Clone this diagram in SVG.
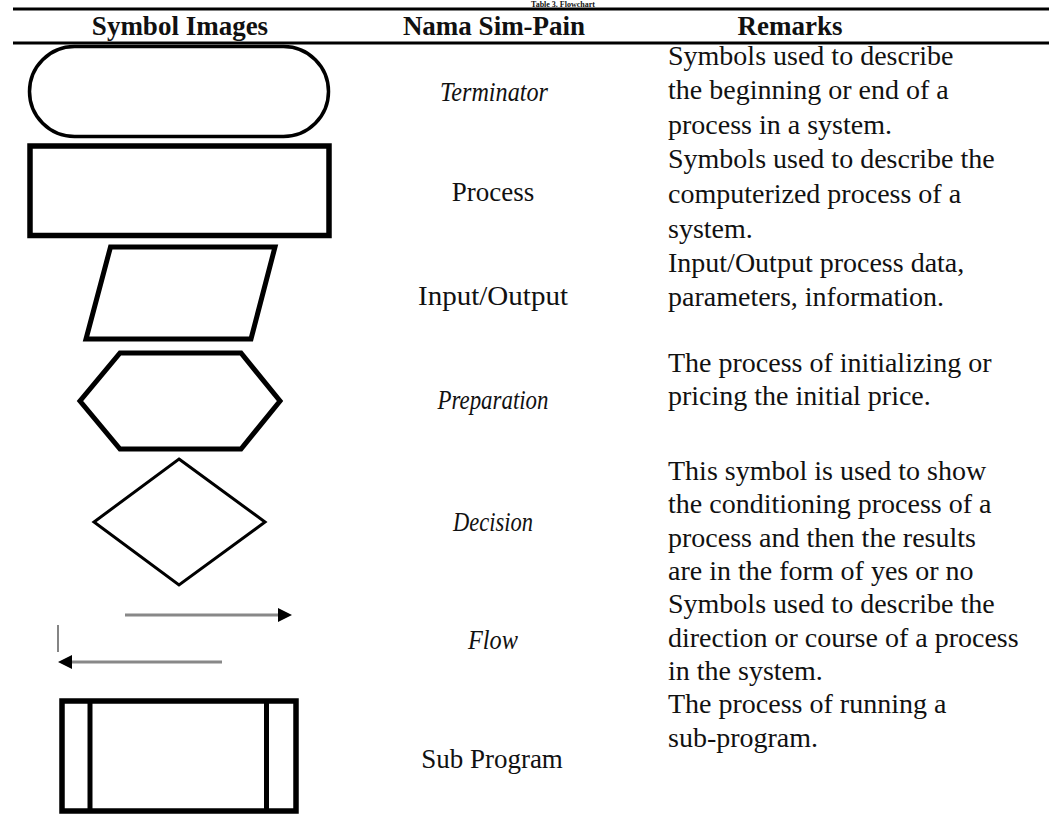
<svg xmlns="http://www.w3.org/2000/svg" width="1049" height="818" viewBox="0 0 1049 818">
<defs>
<style>
.t{font-family:"Liberation Serif","DejaVu Serif",serif;font-size:28px;fill:#111}
.h{font-weight:bold;font-size:27px}
.l{font-size:27px}
.i{font-style:italic}
.m{text-anchor:middle}
.sym{fill:#fff;stroke:#000;stroke-linejoin:miter}
.flow{stroke:#888;stroke-width:3;fill:none}
</style>
<marker id="ah" markerUnits="userSpaceOnUse" markerWidth="14" markerHeight="14" refX="0" refY="7" orient="auto">
<path d="M0,0 L14,7 L0,14 z" fill="#000"/>
</marker>
</defs>
<rect width="1049" height="818" fill="#fff"/>
<text class="t h m" x="563" y="6.5" style="font-size:8px">Table 3. Flowchart</text>
<line x1="13" y1="9" x2="1049" y2="9" stroke="#000" stroke-width="3"/>
<g id="header">
<text class="t h m" x="180" y="35">Symbol Images</text>
<text class="t h m" x="494" y="35">Nama Sim-Pain</text>
<text class="t h m" x="790" y="35">Remarks</text>
</g>
<line x1="13" y1="43" x2="1049" y2="43" stroke="#000" stroke-width="3"/>
<g id="terminator">
<rect class="sym" x="29.5" y="46.5" width="299" height="90" rx="45" ry="45" stroke="#111" stroke-width="3.5"/>
<text class="t l i m" x="494" y="101" textLength="108" lengthAdjust="spacingAndGlyphs">Terminator</text>
<text class="t" x="668" y="65">Symbols used to describe</text>
<text class="t" x="668" y="99">the beginning or end of a</text>
<text class="t" x="668" y="134">process in a system.</text>
</g>
<g id="process">
<rect class="sym" x="30" y="146" width="299" height="89.5" stroke-width="5.5"/>
<text class="t l m" x="493" y="201">Process</text>
<text class="t" x="668" y="168">Symbols used to describe the</text>
<text class="t" x="668" y="203">computerized process of a</text>
<text class="t" x="668" y="238">system.</text>
</g>
<g id="input-output">
<polygon class="sym" points="110.5,247 275,247 251,339 86,339" stroke-width="5"/>
<text class="t l m" x="493" y="305" textLength="150" lengthAdjust="spacingAndGlyphs">Input/Output</text>
<text class="t" x="668" y="272">Input/Output process data,</text>
<text class="t" x="668" y="306">parameters, information.</text>
</g>
<g id="preparation">
<polygon class="sym" points="120,353 241,353 280,401 241,449 120,449 80,401" stroke-width="5"/>
<text class="t l i m" x="493" y="409" textLength="111" lengthAdjust="spacingAndGlyphs">Preparation</text>
<text class="t" x="668" y="372">The process of initializing or</text>
<text class="t" x="668" y="405">pricing the initial price.</text>
</g>
<g id="decision">
<polygon class="sym" points="179,459 265,522 179,585 94,522" stroke-width="3"/>
<text class="t l i m" x="493" y="531" textLength="80" lengthAdjust="spacingAndGlyphs">Decision</text>
<text class="t" x="668" y="480">This symbol is used to show</text>
<text class="t" x="668" y="513">the conditioning process of a</text>
<text class="t" x="668" y="547">process and then the results</text>
<text class="t" x="668" y="580">are in the form of yes or no</text>
</g>
<g id="flow">
<line x1="58" y1="625" x2="58" y2="652" stroke="#333" stroke-width="1.2"/>
<text class="t l i m" x="493" y="649" textLength="50" lengthAdjust="spacingAndGlyphs">Flow</text>
<text class="t" x="668" y="613">Symbols used to describe the</text>
<text class="t" x="668" y="647">direction or course of a process</text>
<text class="t" x="668" y="680">in the system.</text>
</g>
<g id="sub-program">
<rect class="sym" x="62" y="701" width="234" height="110" stroke-width="5.5"/>
<line x1="90" y1="701" x2="90" y2="811" stroke="#000" stroke-width="5"/>
<line x1="266.5" y1="701" x2="266.5" y2="811" stroke="#000" stroke-width="5"/>
<text class="t l m" x="492" y="768">Sub Program</text>
<text class="t" x="668" y="713">The process of running a</text>
<text class="t" x="668" y="747">sub-program.</text>
</g>
<g id="connectors">
<line class="flow" x1="125" y1="615" x2="278" y2="615" marker-end="url(#ah)"/>
<line class="flow" x1="222" y1="662" x2="72" y2="662" marker-end="url(#ah)"/>
</g>
</svg>
